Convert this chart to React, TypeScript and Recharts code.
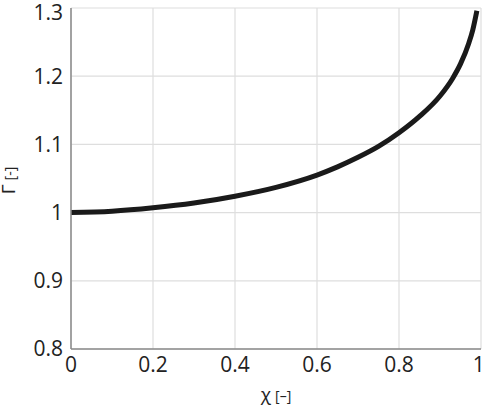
import { LineChart, Line, XAxis, YAxis, CartesianGrid } from 'recharts';

// chi values and the Gamma values
const chi = [0, 0.1, 0.2, 0.3, 0.4, 0.5, 0.6, 0.65, 0.7, 0.75, 0.8, 0.85, 0.9, 0.93, 0.95, 0.97, 0.98, 0.99];
const gamma = [1.0, 1.002, 1.007, 1.014, 1.024, 1.037, 1.055, 1.067, 1.081, 1.097, 1.117, 1.141, 1.171, 1.196, 1.218, 1.248, 1.268, 1.296];

const xTicks = [0, 0.2, 0.4, 0.6, 0.8, 1];
const yTicks = [0.8, 0.9, 1, 1.1, 1.2, 1.3];

const data = chi.map((c, i) => ({ chi: c, gamma: gamma[i] }));

const FONT = '"Open Sans", "Noto Sans", sans-serif';
const BORDER = '#8a8a8a';

function fmt(v: number): string {
  return String(Number(v.toFixed(1)));
}

function XLabel(props: any) {
  const { x, y, width } = props.viewBox;
  return (
    <text x={x + width / 2} y={y + 52} textAnchor="middle" fontFamily={FONT} fill="#222">
      <tspan fontSize={19}>χ</tspan>
      <tspan fontSize={14} dx={4}>[–]</tspan>
    </text>
  );
}

function YLabel(props: any) {
  const { y, height } = props.viewBox;
  const cx = 15;
  const cy = y + height / 2 + 2;
  return (
    <text
      x={cx}
      y={cy}
      textAnchor="middle"
      fontFamily={FONT}
      fill="#222"
      transform={`rotate(-90 ${cx} ${cy})`}
    >
      <tspan fontSize={19}>Γ</tspan>
      <tspan fontSize={14} dx={4}>[-]</tspan>
    </text>
  );
}

export default function App() {
  return (
    <div style={{ position: 'fixed', left: 0, top: 0, background: '#fff' }}>
      <LineChart width={484} height={407} data={data} margin={{ top: 8, right: 3, left: 0, bottom: 0 }}>
        <CartesianGrid stroke="#dedede" strokeWidth={1.2} />
        <XAxis
          dataKey="chi"
          type="number"
          domain={[0, 1]}
          ticks={xTicks}
          tickFormatter={fmt}
          height={58}
          tickLine={false}
          tickSize={0}
          tickMargin={8}
          axisLine={{ stroke: BORDER, strokeWidth: 1.5 }}
          tick={{ fontSize: 21, fill: '#222', fontFamily: FONT }}
          label={<XLabel />}
        />
        <XAxis
          xAxisId="top"
          dataKey="chi"
          type="number"
          domain={[0, 1]}
          orientation="top"
          height={0}
          tick={false}
          tickLine={false}
          axisLine={{ stroke: BORDER, strokeWidth: 1.5 }}
        />
        <YAxis
          type="number"
          domain={[0.8, 1.3]}
          ticks={yTicks}
          tickFormatter={fmt}
          width={71}
          tickLine={false}
          tickSize={0}
          tickMargin={8}
          axisLine={{ stroke: BORDER, strokeWidth: 1.5 }}
          tick={{ fontSize: 21, fill: '#222', fontFamily: FONT }}
          label={<YLabel />}
        />
        <YAxis
          yAxisId="right"
          type="number"
          domain={[0.8, 1.3]}
          orientation="right"
          width={0}
          tick={false}
          tickLine={false}
          axisLine={{ stroke: BORDER, strokeWidth: 1.5 }}
        />
        <Line
          dataKey="gamma"
          type="monotone"
          stroke="#1a1a1a"
          strokeWidth={5}
          dot={false}
          isAnimationActive={false}
        />
      </LineChart>
    </div>
  );
}
